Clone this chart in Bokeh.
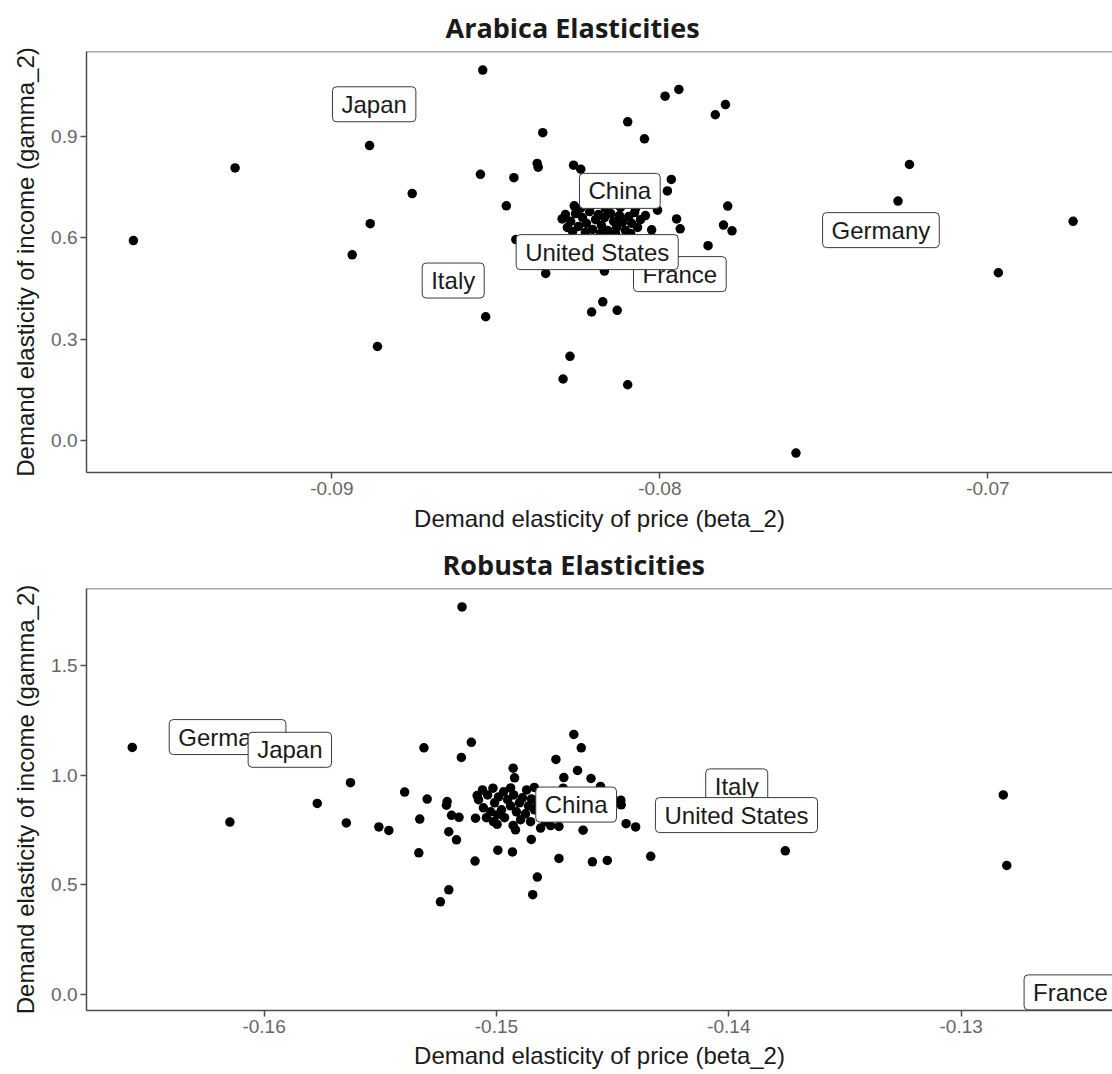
from bokeh.plotting import figure
from bokeh.models import Range1d, FixedTicker, NumeralTickFormatter, Label, Span, ColumnDataSource, Title
from bokeh.layouts import column
from bokeh.embed import file_html
from bokeh.resources import INLINE

# ---------------- Arabica data (beta_2 = price elasticity, gamma_2 = income elasticity)
arabica_beta = [
    -0.09605, -0.09295, -0.08885, -0.08883, -0.08938, -0.08861, -0.08755, -0.08540, -0.08547, -0.08445,
    -0.08468, -0.08374, -0.08371, -0.08357, -0.08348, -0.08531, -0.08439, -0.08298, -0.08282, -0.08263,
    -0.08241, -0.08261, -0.08274, -0.08295, -0.08098, -0.08208, -0.08174, -0.08130, -0.08169, -0.08098,
    -0.08047, -0.07984, -0.07942, -0.07831, -0.07800, -0.07965, -0.07977, -0.08007, -0.08044, -0.07949,
    -0.07938, -0.08025, -0.07793, -0.07806, -0.07780, -0.07853, -0.07274, -0.07239, -0.06740, -0.06968,
    -0.07585,
    -0.08288, -0.08272, -0.08257, -0.08248, -0.08236, -0.08224, -0.08214, -0.08205, -0.08196, -0.08187,
    -0.08178, -0.08169, -0.08159, -0.08150, -0.08141, -0.08132, -0.08123, -0.08114, -0.08105, -0.08095,
    -0.08086, -0.08077, -0.08068, -0.08059, -0.08227, -0.08181, -0.08135, -0.08089, -0.08211, -0.08166,
    -0.08120, -0.08074, -0.08242, -0.08266, -0.08144, -0.08102,
]
arabica_gamma = [
    0.592, 0.807, 0.873, 0.642, 0.550, 0.279, 0.731, 1.096, 0.788, 0.778,
    0.695, 0.820, 0.809, 0.911, 0.495, 0.367, 0.595, 0.656, 0.631, 0.815,
    0.803, 0.695, 0.250, 0.183, 0.166, 0.381, 0.411, 0.386, 0.502, 0.943,
    0.893, 1.019, 1.039, 0.964, 0.994, 0.773, 0.739, 0.682, 0.666, 0.656,
    0.627, 0.624, 0.694, 0.638, 0.621, 0.577, 0.709, 0.817, 0.649, 0.497,
    -0.036,
    0.669, 0.649, 0.672, 0.634, 0.660, 0.643, 0.678, 0.625, 0.654, 0.669,
    0.637, 0.660, 0.622, 0.672, 0.649, 0.631, 0.666, 0.646, 0.622, 0.663,
    0.643, 0.675, 0.631, 0.654, 0.616, 0.613, 0.613, 0.613, 0.693, 0.687,
    0.690, 0.687, 0.687, 0.619, 0.707, 0.701,
]
arabica_label_names = ["China", "France", "Germany", "Italy", "Japan", "United States"]
arabica_label_beta = [-0.08122, -0.07939, -0.07326, -0.08630, -0.08871, -0.08191]
arabica_label_gamma = [0.739, 0.493, 0.623, 0.474, 0.995, 0.558]

# ---------------- Robusta data
robusta_beta = [
    -0.15148, -0.16567, -0.16147, -0.15771, -0.15646, -0.15628, -0.15506, -0.15463, -0.15395, -0.15334,
    -0.15330, -0.15312, -0.15298, -0.15241, -0.15212, -0.15215, -0.15205, -0.15172, -0.15205, -0.15193,
    -0.15161, -0.15151, -0.15108, -0.15092, -0.15090, -0.15083, -0.15015, -0.14997, -0.14994, -0.14931,
    -0.14928, -0.14922, -0.14928, -0.14850, -0.14844, -0.14837, -0.14824, -0.14810, -0.14744, -0.14731,
    -0.14731, -0.14713, -0.14710, -0.14667, -0.14651, -0.14635, -0.14627, -0.14593, -0.14587, -0.14552,
    -0.14523, -0.14465, -0.14463, -0.14442, -0.14401, -0.14336, -0.13757, -0.12819, -0.12804, -0.12693,
    -0.15077, -0.15056, -0.15038, -0.15025, -0.15008, -0.14991, -0.14978, -0.14965, -0.14952, -0.14939,
    -0.14926, -0.14914, -0.14901, -0.14888, -0.14875, -0.14862, -0.14849, -0.14836, -0.14823, -0.14969,
    -0.15043, -0.14995, -0.14896, -0.14939, -0.14870, -0.15060, -0.14810, -0.14789, -0.14767, -0.14853,
    -0.14918, -0.15013,
]
robusta_gamma = [
    1.769, 1.128, 0.787, 0.872, 0.783, 0.967, 0.765, 0.749, 0.924, 0.647,
    0.801, 1.126, 0.892, 0.423, 0.881, 0.864, 0.743, 0.706, 0.478, 0.818,
    0.809, 1.082, 1.151, 0.609, 0.805, 0.908, 0.942, 0.777, 0.659, 0.651,
    1.033, 0.989, 0.772, 0.708, 0.456, 0.945, 0.536, 0.760, 1.073, 0.767,
    0.621, 0.942, 0.990, 1.187, 1.023, 1.126, 0.750, 0.986, 0.606, 0.950,
    0.612, 0.887, 0.866, 0.780, 0.765, 0.631, 0.656, 0.911, 0.589, 0.017,
    0.889, 0.852, 0.911, 0.834, 0.875, 0.902, 0.843, 0.807, 0.889, 0.861,
    0.911, 0.834, 0.875, 0.898, 0.825, 0.861, 0.893, 0.843, 0.875, 0.925,
    0.807, 0.821, 0.798, 0.943, 0.934, 0.934, 0.821, 0.789, 0.771, 0.789,
    0.752, 0.789,
]
robusta_label_names = ["China", "France", "Germany", "Italy", "Japan", "United States"]
robusta_label_beta = [-0.14657, -0.12530, -0.16157, -0.13966, -0.15889, -0.13967]
robusta_label_gamma = [0.867, 0.010, 1.175, 0.950, 1.117, 0.819]

arabica_xticks = [-0.09, -0.08, -0.07]
arabica_yticks = [0.0, 0.3, 0.6, 0.9]
robusta_xticks = [-0.16, -0.15, -0.14, -0.13]
robusta_yticks = [0.0, 0.5, 1.0, 1.5]

X_LABEL = "Demand elasticity of price (beta_2)"
Y_LABEL = "Demand elasticity of income (gamma_2)"

AX_FONT = "Liberation Sans"
LINE_COL = "#4d4d4d"


def make_panel(title, xs, ys, names, lx, ly, xr, yr, xticks, yticks,
               height, min_top, min_bottom, title_offset, xlabel_standoff):
    p = figure(width=1112, height=height, output_backend="svg", toolbar_location=None,
               x_range=Range1d(*xr), y_range=Range1d(*yr),
               min_border_left=86, min_border_right=0,
               min_border_top=min_top, min_border_bottom=min_bottom)
    p.outline_line_color = None
    p.xgrid.visible = False
    p.ygrid.visible = False
    p.background_fill_color = "white"
    p.border_fill_color = "white"

    p.title = Title(text=title, align="left", offset=title_offset, vertical_align="bottom",
                    standoff=12, text_font="Open Sans", text_font_style="bold",
                    text_font_size="27px", text_color="#1a1a1a")

    p.xaxis.ticker = FixedTicker(ticks=xticks)
    p.yaxis.ticker = FixedTicker(ticks=yticks)
    p.xaxis.formatter = NumeralTickFormatter(format="0.00")
    p.yaxis.formatter = NumeralTickFormatter(format="0.0")
    for ax in (p.xaxis[0], p.yaxis[0]):
        ax.axis_line_color = LINE_COL
        ax.axis_line_width = 1.5
        ax.major_tick_line_color = LINE_COL
        ax.major_tick_line_width = 1.5
        ax.major_tick_out = 6
        ax.major_tick_in = 0
        ax.minor_tick_line_color = None
        ax.major_label_text_font = AX_FONT
        ax.major_label_text_font_size = "19px"
        ax.major_label_text_color = "#666666"
        ax.major_label_standoff = 3
        ax.axis_label_text_font = AX_FONT
        ax.axis_label_text_font_size = "24px"
        ax.axis_label_text_font_style = "normal"
        ax.axis_label_text_color = "#1a1a1a"
    p.xaxis.axis_label = X_LABEL
    p.yaxis.axis_label = Y_LABEL
    p.xaxis.axis_label_standoff = xlabel_standoff
    p.yaxis.axis_label_standoff = 9

    # top border of the panel
    p.add_layout(Span(location=yr[1], dimension="width", line_color=LINE_COL, line_width=1.5))

    src = ColumnDataSource(dict(beta=xs, gamma=ys))
    p.scatter("beta", "gamma", source=src, size=9.5, fill_color="black", line_color=None)

    for n, bx, gy in zip(names, lx, ly):
        p.add_layout(Label(x=bx, y=gy, text=n, text_font=AX_FONT, text_font_size="24px",
                           text_color="#1a1a1a", text_align="center", text_baseline="middle",
                           background_fill_color="white", border_line_color="#3a3a3a",
                           border_line_width=1, border_radius=4,
                           padding=dict(left=9, right=9, top=4, bottom=4)))
    return p


p1 = make_panel("Arabica Elasticities", arabica_beta, arabica_gamma,
                arabica_label_names, arabica_label_beta, arabica_label_gamma,
                (-0.09748, -0.06620), (-0.0934, 1.151), arabica_xticks, arabica_yticks,
                height=537, min_top=49, min_bottom=65, title_offset=359, xlabel_standoff=7)
p2 = make_panel("Robusta Elasticities", robusta_beta, robusta_gamma,
                robusta_label_names, robusta_label_beta, robusta_label_gamma,
                (-0.16764, -0.12349), (-0.0727, 1.853), robusta_xticks, robusta_yticks,
                height=537, min_top=48, min_bottom=64, title_offset=356, xlabel_standoff=6)

layout = column(p1, p2)
open("out.html", "w").write(file_html(layout, INLINE))
